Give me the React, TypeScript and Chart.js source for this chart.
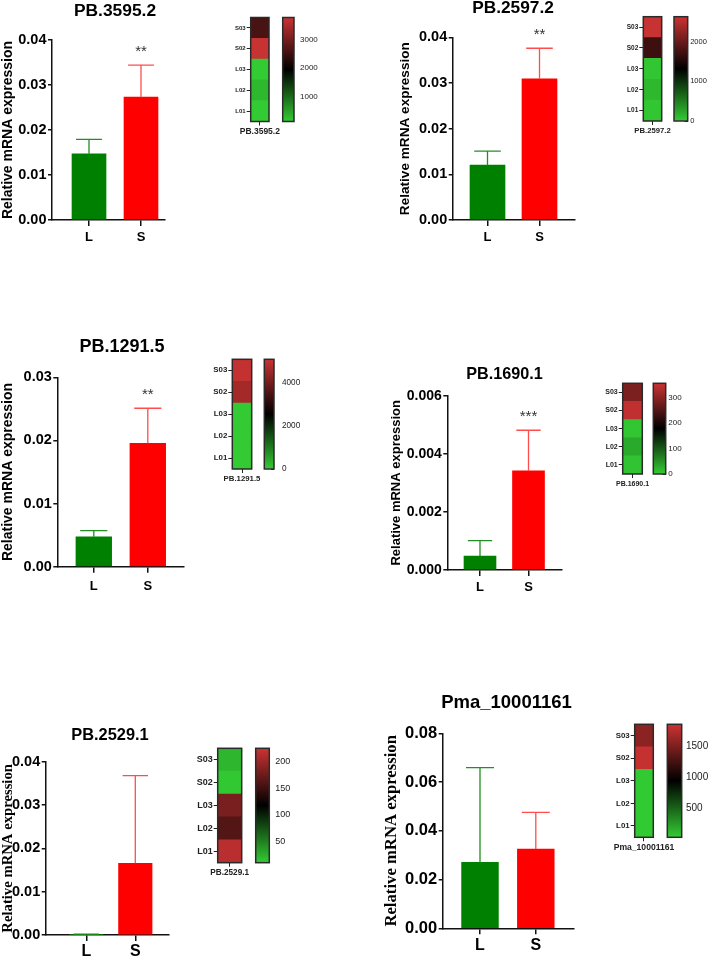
import React, { useEffect, useRef } from 'react';
import { Chart, registerables } from 'chart.js';

Chart.register(...registerables);

const SANS = '"Liberation Sans", Arial, Helvetica, sans-serif';
const SERIF = '"Liberation Serif", "Times New Roman", serif';

// ---------------- data ----------------
const groups = ['L', 'S'];
const genes = ['PB.3595.2', 'PB.2597.2', 'PB.1291.5', 'PB.1690.1', 'PB.2529.1', 'Pma_10001161'];
const meanL = [0.0147, 0.012, 0.00475, 0.00048, 0.00015, 0.0271];
const sdL = [0.0032, 0.0031, 0.00095, 0.00053, 0.00005, 0.0388];
const meanS = [0.0273, 0.0309, 0.01955, 0.00341, 0.01655, 0.0325];
const sdS = [0.0071, 0.0067, 0.00555, 0.0014, 0.02025, 0.0151];
const signifS = ['**', '**', '**', '***', '', ''];
const yMax = [0.04, 0.04, 0.03, 0.006, 0.04, 0.08];
const yStep = [0.01, 0.01, 0.01, 0.002, 0.01, 0.02];
const yDecimals = [2, 2, 2, 3, 2, 2];
const yAxisTitle = 'Relative mRNA expression';

// heatmap rows, top to bottom
const rowLabels = ['S03', 'S02', 'L03', 'L02', 'L01'];
const heatPB3595 = [2610, 3720, 160, 330, 160];
const heatPB2597 = [2600, 1710, 30, 130, 30];
const heatPB1291 = [5000, 4600, 20, 20, 20];
const heatPB1690 = [285, 345, 5, 30, 8];
const heatPB2529 = [21, 12, 182, 162, 215];
const heatPma = [1570, 1830, 40, 40, 40];
const heatValues = [heatPB3595, heatPB2597, heatPB1291, heatPB1690, heatPB2529, heatPma];
const heatMin = [150, 0, 0, 0, 10, 30];
const heatMax = [3760, 2630, 5100, 355, 225, 1860];
const heatStep = [1000, 1000, 2000, 100, 50, 500];

// ---------------- styles / layout ----------------
const BAR_COLORS = ['#008000', '#ff0000'];
const ERR_COLORS = ['#238f23', '#ff4d4d'];
const AXIS = '#111';

type BarLayout = {
  yTitleX: number; ty: number; tx: number; L: number; R: number; T: number; B: number;
  c1: number; c2: number; barW: number; titleSize: number; yTitleSize: number;
  tickSize: number; xSize: number; xPad: number; serif: boolean;
};

const barLayouts: BarLayout[] = [
  { yTitleX: 8, ty: 11, tx: 115, L: 52, R: 165, T: 40, B: 220, c1: 89, c2: 141, barW: 34, titleSize: 17.4, yTitleSize: 14, tickSize: 14.5, xSize: 13, xPad: 4, serif: false },
  { yTitleX: 404.7, ty: 8.5, tx: 513, L: 452.7, R: 575, T: 37.3, B: 220, c1: 487.5, c2: 539.5, barW: 35, titleSize: 17.3, yTitleSize: 13.6, tickSize: 14.5, xSize: 13, xPad: 4, serif: false },
  { yTitleX: 8.3, ty: 347, tx: 122, L: 57.3, R: 184, T: 377.3, B: 566.7, c1: 93.8, c2: 147.8, barW: 35.7, titleSize: 18, yTitleSize: 14, tickSize: 14.5, xSize: 13, xPad: 6, serif: false },
  { yTitleX: 396.7, ty: 375, tx: 504.3, L: 447.3, R: 561.7, T: 395.7, B: 570, c1: 480, c2: 528.5, barW: 32, titleSize: 16.2, yTitleSize: 13, tickSize: 14, xSize: 13, xPad: 4, serif: false },
  { yTitleX: 7.7, ty: 735, tx: 110, L: 45.7, R: 168.3, T: 761.7, B: 935, c1: 86.3, c2: 135.3, barW: 33.5, titleSize: 16.4, yTitleSize: 14.7, tickSize: 14.5, xSize: 16, xPad: 1, serif: true },
  { yTitleX: 392.5, ty: 702.7, tx: 506.7, L: 442.7, R: 573.3, T: 733.3, B: 928.3, c1: 480, c2: 535.8, barW: 36.8, titleSize: 18.5, yTitleSize: 16.7, tickSize: 16.5, xSize: 16, xPad: 2, serif: true },
];

type HeatLayout = {
  hx0: number; hx1: number; hy0: number; hy1: number; cb0: number; cb1: number;
  cbGap: number; rowSize: number; cbSize: number; nameSize: number;
};

const heatLayouts: HeatLayout[] = [
  { hx0: 250.7, hx1: 269, hy0: 17.5, hy1: 121.5, cb0: 282.7, cb1: 294, cbGap: 6, rowSize: 6, cbSize: 8, nameSize: 8.5 },
  { hx0: 643.3, hx1: 661.7, hy0: 16.7, hy1: 121, cb0: 674, cb1: 687.7, cbGap: 2.5, rowSize: 6.5, cbSize: 7.5, nameSize: 7.7 },
  { hx0: 232.3, hx1: 251.7, hy0: 359.3, hy1: 469, cb0: 264.3, cb1: 274, cbGap: 8, rowSize: 7.9, cbSize: 8.2, nameSize: 7.8 },
  { hx0: 622.7, hx1: 642.3, hy0: 383.3, hy1: 474, cb0: 653.3, cb1: 665.7, cbGap: 2.6, rowSize: 7, cbSize: 8, nameSize: 7 },
  { hx0: 217.7, hx1: 241.7, hy0: 748.3, hy1: 862.7, cb0: 255.7, cb1: 269.3, cbGap: 6, rowSize: 9, cbSize: 9, nameSize: 8.2 },
  { hx0: 629.3, hx1: 653.3, hy0: 724.3, hy1: 837.3, cb0: 667.3, cb1: 681.7, cbGap: 4.3, rowSize: 7.9, cbSize: 10, nameSize: 8.6 },
];

const GREEN = [51, 204, 51];
const RED = [204, 51, 51];
const CB_TICK = 3;
const MARGIN = 24;

function mapColor(v: number, lo: number, hi: number): string {
  let t = (v - lo) / (hi - lo);
  t = Math.max(0, Math.min(1, t));
  const base = t < 0.5 ? GREEN : RED;
  const f = t < 0.5 ? 1 - 2 * t : 2 * t - 1;
  return `rgb(${Math.round(base[0] * f)},${Math.round(base[1] * f)},${Math.round(base[2] * f)})`;
}

// ---------------- bar panel ----------------
function BarPanel({ i }: { i: number }) {
  const ref = useRef<HTMLCanvasElement>(null);
  const lay = barLayouts[i];
  const yTitleLH = lay.yTitleSize * 1.2;
  const titleLH = lay.titleSize * 1.2;
  const cx = Math.round(lay.yTitleX - yTitleLH / 2);
  const cy = Math.round(lay.ty - 2 - titleLH / 2);
  const W = Math.round(2 * (lay.tx - cx));
  const H = Math.round(lay.B - cy + 36);

  useEffect(() => {
    const unit = lay.c2 - lay.c1;
    const xmin = 1 - (lay.c1 - lay.L) / unit;
    const xmax = 2 + (lay.R - lay.c2) / unit;
    const means = [meanL[i], meanS[i]];
    const sds = [sdL[i], sdS[i]];
    const stars = ['', signifS[i]];
    const padTop = lay.ty - cy - titleLH / 2;
    const padBottom = lay.T - cy - padTop - titleLH;
    const tickFont = { family: SANS, size: lay.tickSize, weight: 'bold' as const };

    const errPlugin = {
      id: 'errbars',
      afterDatasetsDraw(chart: any) {
        const { ctx } = chart;
        const xs = chart.scales.x;
        const ys = chart.scales.y;
        ctx.save();
        means.forEach((m, k) => {
          const px = xs.getPixelForValue(k + 1);
          const y0 = ys.getPixelForValue(m);
          const y1 = ys.getPixelForValue(m + sds[k]);
          const cap = lay.barW * 0.38;
          ctx.strokeStyle = ERR_COLORS[k];
          ctx.lineWidth = 1.3;
          ctx.beginPath();
          ctx.moveTo(px, y0);
          ctx.lineTo(px, y1);
          ctx.moveTo(px - cap, y1);
          ctx.lineTo(px + cap, y1);
          ctx.stroke();
          if (stars[k]) {
            ctx.fillStyle = '#333';
            ctx.font = `15px ${SANS}`;
            ctx.textAlign = 'center';
            ctx.textBaseline = 'middle';
            ctx.fillText(stars[k], px, y1 - 13);
          }
        });
        ctx.restore();
      },
    };

    const chart = new Chart(ref.current as HTMLCanvasElement, {
      type: 'bar',
      data: {
        datasets: [
          {
            data: groups.map((g, k) => ({ x: k + 1, y: means[k] })) as any,
            backgroundColor: BAR_COLORS,
            barThickness: lay.barW,
            borderWidth: 0,
          },
        ],
      },
      options: {
        responsive: false,
        animation: false,
        devicePixelRatio: 1,
        layout: { padding: 0 },
        plugins: {
          legend: { display: false },
          tooltip: { enabled: false },
          title: {
            display: true,
            text: genes[i],
            color: '#000',
            font: { family: SANS, size: lay.titleSize, weight: 'bold', lineHeight: 1.2 },
            padding: { top: padTop, bottom: padBottom },
          },
        },
        scales: {
          x: {
            type: 'linear',
            offset: false,
            min: xmin,
            max: xmax,
            afterBuildTicks: (s: any) => {
              s.ticks = groups.map((g, k) => ({ value: k + 1 }));
            },
            ticks: {
              callback: (_v: any, idx: number) => groups[idx],
              font: { family: SANS, size: lay.xSize, weight: 'bold' },
              color: '#000',
              padding: lay.xPad,
              autoSkip: false,
              maxRotation: 0,
            },
            grid: { offset: false, drawOnChartArea: false, drawTicks: true, tickLength: 6, color: AXIS, lineWidth: 1.5 },
            border: { display: true, color: AXIS, width: 1.5 },
            afterFit: (s: any) => {
              s.height = cy + H - lay.B;
            },
          },
          y: {
            type: 'linear',
            min: 0,
            max: yMax[i],
            ticks: {
              stepSize: yStep[i],
              callback: (v: any) => Number(v).toFixed(yDecimals[i]),
              font: tickFont,
              color: '#000',
              padding: 1.5,
            },
            grid: { drawOnChartArea: false, drawTicks: true, tickLength: 4, color: AXIS, lineWidth: 1.5 },
            border: { display: true, color: AXIS, width: 1.5 },
            title: {
              display: true,
              text: yAxisTitle,
              color: '#000',
              font: { family: lay.serif ? SERIF : SANS, size: lay.yTitleSize, weight: 'bold', lineHeight: 1.2 },
              padding: { top: 0, bottom: 0 },
            },
            afterFit: (s: any) => {
              s.width = lay.L - cx;
            },
          },
          r: {
            type: 'linear',
            position: 'right',
            display: true,
            grid: { display: false, drawTicks: false },
            ticks: { display: false },
            border: { display: false },
            afterFit: (s: any) => {
              s.width = cx + W - lay.R;
            },
          },
        },
      } as any,
      plugins: [errPlugin],
    });
    return () => chart.destroy();
  }, [i]);

  return (
    <canvas
      ref={ref}
      width={W}
      height={H}
      style={{ position: 'absolute', left: cx, top: cy, width: W, height: H }}
    />
  );
}

// ---------------- heatmap panel ----------------
function HeatPanel({ i }: { i: number }) {
  const hRef = useRef<HTMLCanvasElement>(null);
  const cRef = useRef<HTMLCanvasElement>(null);
  const lay = heatLayouts[i];

  const hLeft = Math.round(lay.hx0) - 34;
  const hTop = Math.round(lay.hy0) - MARGIN;
  const hW = Math.round(lay.hx1 - hLeft) + 40;
  const hH = Math.round(lay.hy1 - hTop) + 24;

  const cLeft = Math.round(lay.cb0) - 2;
  const cTop = Math.round(lay.hy0) - MARGIN;
  const cW = Math.round(lay.cb1 - cLeft) + 40;
  const cH = Math.round(lay.hy1 - cTop) + MARGIN;

  useEffect(() => {
    const vals = heatValues[i];
    const lo = heatMin[i];
    const hi = heatMax[i];
    const n = rowLabels.length;
    const outline = {
      id: 'outline',
      afterDatasetsDraw(chart: any) {
        const a = chart.chartArea;
        const ctx = chart.ctx;
        ctx.save();
        ctx.strokeStyle = '#2a2a2a';
        ctx.lineWidth = 1.5;
        ctx.strokeRect(a.left, a.top, a.right - a.left, a.bottom - a.top);
        ctx.restore();
      },
    };

    // heatmap cells: stacked from bottom (last row label) to top (first)
    const datasets = rowLabels.map((_, k) => {
      const rowIdx = n - 1 - k;
      return {
        label: rowLabels[rowIdx],
        data: [1],
        backgroundColor: mapColor(vals[rowIdx], lo, hi),
        borderWidth: 0,
        barPercentage: 1,
        categoryPercentage: 1,
      };
    });

    const heat = new Chart(hRef.current as HTMLCanvasElement, {
      type: 'bar',
      data: { labels: [genes[i]], datasets },
      options: {
        responsive: false,
        animation: false,
        devicePixelRatio: 1,
        layout: {
          padding: { left: 0, top: lay.hy0 - hTop, right: hLeft + hW - lay.hx1, bottom: 0 },
        },
        plugins: { legend: { display: false }, tooltip: { enabled: false }, title: { display: false } },
        scales: {
          x: {
            stacked: true,
            grid: { drawOnChartArea: false, drawTicks: true, tickLength: 4, color: '#222', lineWidth: 1, offset: false },
            border: { display: false },
            ticks: { font: { family: SANS, size: lay.nameSize, weight: 'bold' }, color: '#222', padding: 1.5, maxRotation: 0 },
            afterFit: (s: any) => {
              s.height = hTop + hH - lay.hy1;
            },
          },
          y: {
            type: 'linear',
            stacked: true,
            min: 0,
            max: n,
            afterBuildTicks: (s: any) => {
              s.ticks = rowLabels.map((_, k) => ({ value: k + 0.5 }));
            },
            ticks: {
              callback: (_v: any, idx: number) => rowLabels[n - 1 - idx],
              font: { family: SANS, size: lay.rowSize, weight: 'bold' },
              color: '#222',
              padding: 1,
              autoSkip: false,
            },
            grid: { drawOnChartArea: false, drawTicks: true, tickLength: 4, color: '#222', lineWidth: 1 },
            border: { display: false },
            afterFit: (s: any) => {
              s.width = lay.hx0 - hLeft;
            },
          },
        },
      } as any,
      plugins: [outline],
    });

    const step = heatStep[i];
    const bar = new Chart(cRef.current as HTMLCanvasElement, {
      type: 'bar',
      data: {
        labels: [''],
        datasets: [
          {
            data: [[lo, hi]] as any,
            borderWidth: 0,
            barPercentage: 1,
            categoryPercentage: 1,
            backgroundColor: (ctx: any) => {
              const a = ctx.chart.chartArea;
              if (!a) return '#000';
              const g = ctx.chart.ctx.createLinearGradient(0, a.bottom, 0, a.top);
              g.addColorStop(0, `rgb(${GREEN.join(',')})`);
              g.addColorStop(0.5, '#000');
              g.addColorStop(1, `rgb(${RED.join(',')})`);
              return g;
            },
          },
        ],
      },
      options: {
        responsive: false,
        animation: false,
        devicePixelRatio: 1,
        layout: {
          padding: { left: lay.cb0 - cLeft, top: lay.hy0 - cTop, bottom: cTop + cH - lay.hy1, right: 0 },
        },
        plugins: { legend: { display: false }, tooltip: { enabled: false }, title: { display: false } },
        scales: {
          x: { display: false },
          y: {
            type: 'linear',
            position: 'right',
            min: lo,
            max: hi,
            ticks: {
              callback: (v: any) => String(Math.round(Number(v))),
              font: { family: SANS, size: lay.cbSize },
              color: '#222',
              padding: lay.cbGap + CB_TICK,
              autoSkip: false,
            },
            afterBuildTicks: (s: any) => {
              const t: any[] = [];
              for (let v = Math.ceil(lo / step) * step; v <= hi + 1e-9; v += step) t.push({ value: v });
              s.ticks = t;
            },
            grid: { display: true, drawOnChartArea: false, drawTicks: true, tickLength: -CB_TICK, color: '#222', lineWidth: 1 },
            border: { display: false },
            afterFit: (s: any) => {
              s.width = cLeft + cW - lay.cb1;
            },
          },
        },
      } as any,
      plugins: [outline],
    });

    return () => {
      heat.destroy();
      bar.destroy();
    };
  }, [i]);

  return (
    <>
      <canvas ref={hRef} width={hW} height={hH} style={{ position: 'absolute', left: hLeft, top: hTop, width: hW, height: hH }} />
      <canvas ref={cRef} width={cW} height={cH} style={{ position: 'absolute', left: cLeft, top: cTop, width: cW, height: cH }} />
    </>
  );
}

export default function App() {
  return (
    <div
      style={{
        position: 'absolute',
        left: 0,
        top: 0,
        width: 709,
        height: 958,
        overflow: 'hidden',
        background: '#fff',
      }}
    >
      {genes.map((g, i) => (
        <React.Fragment key={g}>
          <BarPanel i={i} />
          <HeatPanel i={i} />
        </React.Fragment>
      ))}
    </div>
  );
}
